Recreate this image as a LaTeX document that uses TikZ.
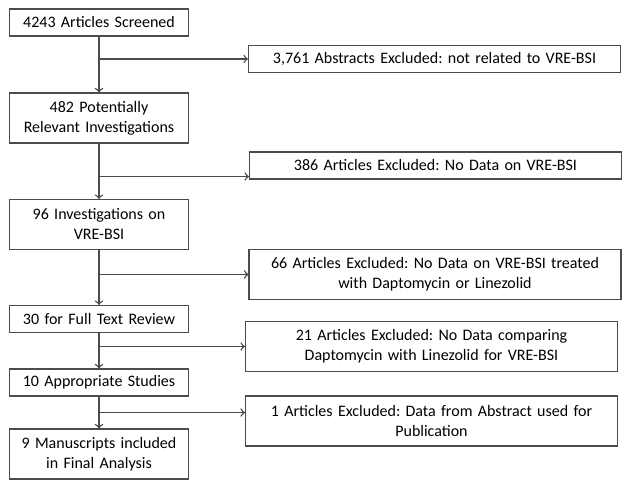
\documentclass[tikz,border=0pt]{standalone}
\usepackage{fontspec}
\setmainfont{Carlito}
\usepackage{tikz}
\definecolor{boxgray}{gray}{0.3}
\frenchspacing

\begin{document}
\begin{tikzpicture}[
	box/.style={draw=boxgray, semithick, rectangle, align=center, inner xsep=0.1cm, inner ysep=0.04cm, minimum height=0.54cm, font=\fontsize{9.1}{11.4}\selectfont},
	stagebox/.style={box, text width=3.38cm},
	exclbox/.style={box, text width=7.24cm},
	tall/.style={minimum height=1cm},
	flow/.style={->, thick, draw=boxgray}]
	\useasboundingbox (0,0) rectangle (12.64,-9.74);
	
	\node[stagebox] (screened) at (1.98,-0.45) {4243 Articles Screened};
	
	\node[stagebox, tall, below of= screened, yshift=-0.91cm] (relevant) {482 Potentially\\Relevant Investigations};
	
	\node[stagebox, tall, below of= relevant, yshift=-1.13cm] (vrebsi) {96 Investigations on\\VRE-BSI};
	
	\node[stagebox, below of= vrebsi, yshift=-0.89cm] (fulltext) {30 for Full Text Review};
	
	\node[stagebox, below of= fulltext, yshift=-0.27cm] (appropriate) {10 Appropriate Studies};
	
	\node[stagebox, tall, below of= appropriate, yshift=-0.43cm] (final) {9 Manuscripts included\\in Final Analysis};
	
	\node[exclbox, right of= screened, xshift=5.71cm, yshift=-0.73cm] (excabs) {3,761 Abstracts Excluded: not related to VRE-BSI};
	
	\node[exclbox, right of= relevant, xshift=5.73cm, yshift=-0.95cm] (excnodata) {386 Articles Excluded: No Data on VRE-BSI};
	
	\node[exclbox, tall, right of= vrebsi, xshift=5.72cm, yshift=-1cm] (exctreat) {66 Articles Excluded: No Data on VRE-BSI treated\\with Daptomycin or Linezolid};
	
	\node[exclbox, tall, right of= fulltext, xshift=5.65cm, yshift=-0.55cm] (exccomp) {21 Articles Excluded: No Data comparing\\Daptomycin with Linezolid for VRE-BSI};
	
	\node[exclbox, tall, right of= appropriate, xshift=5.65cm, yshift=-0.77cm] (excpub) {1 Articles Excluded: Data from Abstract used for\\Publication};
	
	\coordinate (j1) at (screened |- excabs);
	\coordinate (j2) at ([yshift=-0.66cm]relevant.south);
	\coordinate (j3) at (vrebsi |- exctreat);
	\coordinate (j4) at (fulltext |- exccomp);
	\coordinate (j5) at ([yshift=-0.32cm]appropriate.south);
	
	\draw[flow] (screened) -- (relevant);
	\draw[flow] (relevant) -- (vrebsi);
	\draw[flow] (vrebsi) -- (fulltext);
	\draw[flow] (fulltext) -- (appropriate);
	\draw[flow] (appropriate) -- (final);
	
	\draw[flow] (j1) -- (j1 -| excabs.west);
	\draw[flow] (j2) -- (j2 -| excnodata.west);
	\draw[flow] (j3) -- (j3 -| exctreat.west);
	\draw[flow] (j4) -- (j4 -| exccomp.west);
	\draw[flow] (j5) -- (j5 -| excpub.west);
\end{tikzpicture}
\end{document}
